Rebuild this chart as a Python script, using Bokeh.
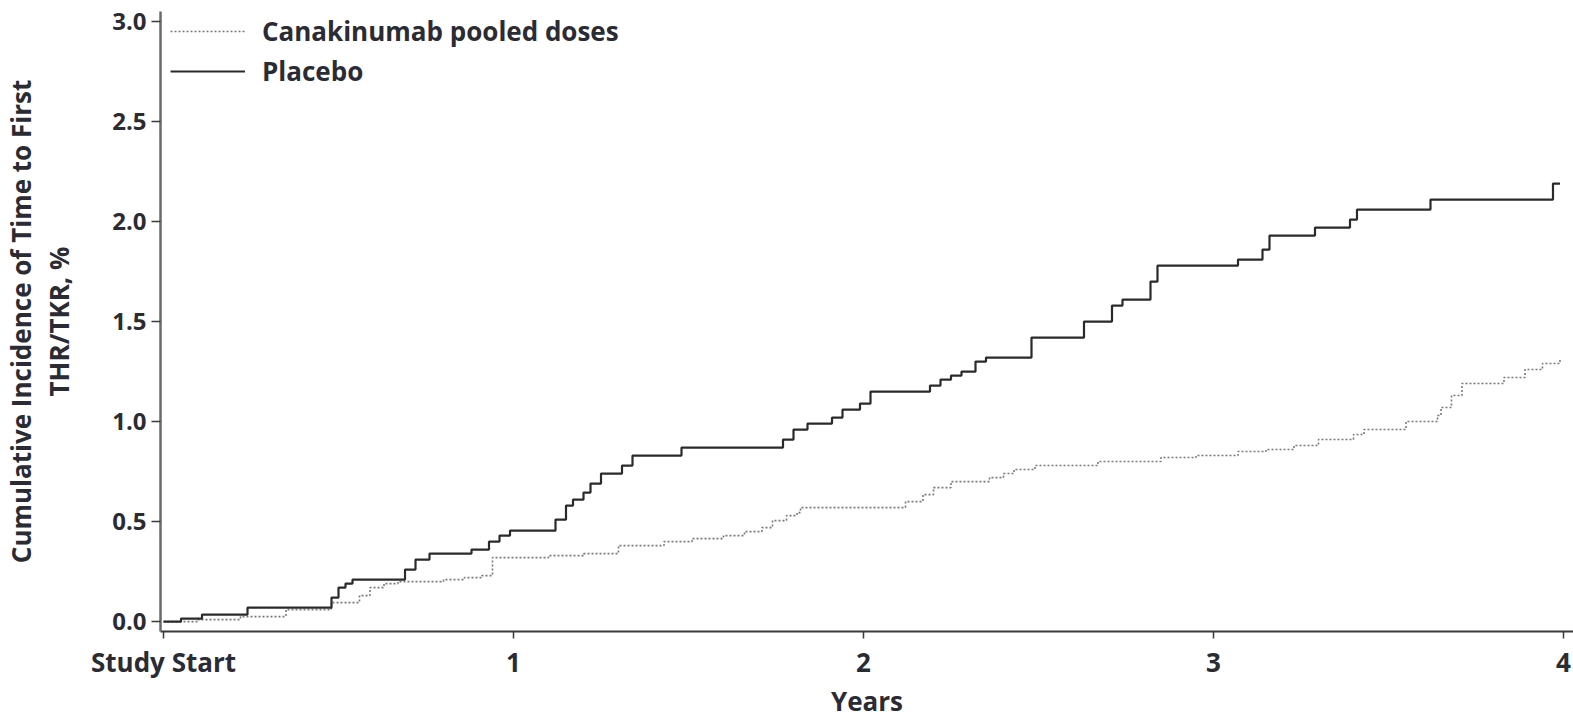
from bokeh.plotting import figure
from bokeh.models import Range1d, FixedTicker, Legend, LegendItem
from bokeh.embed import file_html
from bokeh.resources import INLINE

# Data
placebo_years = [0.00, 0.05, 0.11, 0.24, 0.48, 0.50, 0.52, 0.54, 0.69, 0.72, 0.76, 0.88, 0.93, 0.96, 0.99,
                 1.12, 1.15, 1.17, 1.20, 1.22, 1.25, 1.31, 1.34, 1.48, 1.77, 1.80, 1.84, 1.91, 1.94, 1.99,
                 2.02, 2.19, 2.22, 2.25, 2.28, 2.32, 2.35, 2.48, 2.63, 2.71, 2.74, 2.82, 2.84, 3.07, 3.14,
                 3.16, 3.29, 3.39, 3.41, 3.62, 3.97, 3.99]
placebo_pct = [0.00, 0.015, 0.035, 0.07, 0.12, 0.17, 0.19, 0.21, 0.26, 0.31, 0.34, 0.36, 0.40, 0.43, 0.455,
               0.51, 0.58, 0.61, 0.645, 0.69, 0.74, 0.78, 0.83, 0.87, 0.91, 0.96, 0.99, 1.02, 1.06, 1.09,
               1.15, 1.18, 1.21, 1.23, 1.25, 1.30, 1.32, 1.42, 1.50, 1.58, 1.61, 1.70, 1.78, 1.81, 1.86,
               1.93, 1.97, 2.01, 2.06, 2.11, 2.19, 2.19]

cana_years = [0.00, 0.10, 0.22, 0.35, 0.48, 0.56, 0.59, 0.63, 0.67, 0.80, 0.86, 0.91, 0.94, 1.10, 1.20,
              1.30, 1.43, 1.51, 1.60, 1.66, 1.71, 1.74, 1.78, 1.81, 1.82, 2.12, 2.17, 2.20, 2.25, 2.36,
              2.40, 2.43, 2.49, 2.67, 2.85, 2.95, 3.07, 3.15, 3.23, 3.30, 3.40, 3.43, 3.55, 3.64, 3.65,
              3.68, 3.71, 3.83, 3.89, 3.94, 3.99]
cana_pct = [0.00, 0.01, 0.025, 0.06, 0.095, 0.13, 0.17, 0.19, 0.20, 0.21, 0.22, 0.23, 0.32, 0.33, 0.34,
            0.38, 0.40, 0.415, 0.43, 0.45, 0.47, 0.505, 0.53, 0.545, 0.57, 0.60, 0.635, 0.67, 0.70, 0.72,
            0.74, 0.76, 0.78, 0.80, 0.82, 0.83, 0.85, 0.86, 0.88, 0.91, 0.935, 0.96, 1.00, 1.03, 1.07,
            1.13, 1.19, 1.22, 1.26, 1.29, 1.31]

x_ticks = [0, 1, 2, 3, 4]
x_tick_labels = ["Study Start", "1", "2", "3", "4"]
y_ticks = [0.0, 0.5, 1.0, 1.5, 2.0, 2.5, 3.0]
y_tick_labels = ["0.0", "0.5", "1.0", "1.5", "2.0", "2.5", "3.0"]

series_names = ["Canakinumab pooled doses", "Placebo"]

FONT = "Open Sans"
TXT = "#2b2b33"

p = figure(width=1573, height=721, output_backend="svg", toolbar_location=None,
           x_range=Range1d(-0.0086, 4.0286), y_range=Range1d(-0.0495, 3.05),
           min_border_left=160, min_border_right=0, min_border_top=11, min_border_bottom=84)
p.outline_line_color = None
p.xgrid.visible = False
p.ygrid.visible = False
p.background_fill_color = "white"

r_cana = p.step(cana_years, cana_pct, mode="after", line_color="#7a7a7a", line_width=1.6,
                line_dash="2 2")
r_plac = p.step(placebo_years, placebo_pct, mode="after", line_color="#2a2a2a", line_width=2.2)

legend = Legend(items=[LegendItem(label=series_names[0], renderers=[r_cana]),
                       LegendItem(label=series_names[1], renderers=[r_plac])],
                location=(10, 540), padding=0, margin=0, spacing=0,
                glyph_width=75, glyph_height=40, label_height=40, label_standoff=17,
                label_text_font=FONT, label_text_font_style="bold", label_text_font_size="26px",
                label_text_color=TXT, border_line_color=None, background_fill_alpha=0)
p.add_layout(legend, "center")

# X axis
xa = p.xaxis[0]
xa.ticker = FixedTicker(ticks=x_ticks)
xa.major_label_overrides = {t: l for t, l in zip(x_ticks, x_tick_labels)}
xa.axis_label = "Years"
xa.axis_line_color = "#3a3a3a"
xa.axis_line_width = 2
xa.major_tick_line_color = "#3a3a3a"
xa.major_tick_line_width = 1.5
xa.major_tick_in = 0
xa.major_tick_out = 7
xa.minor_tick_line_color = None
xa.major_label_standoff = 5
xa.major_label_text_font = FONT
xa.major_label_text_font_style = "bold"
xa.major_label_text_font_size = "26px"
xa.major_label_text_color = TXT
xa.axis_label_text_font = FONT
xa.axis_label_text_font_style = "bold"
xa.axis_label_text_font_size = "26px"
xa.axis_label_text_color = TXT
xa.axis_label_standoff = 0

# Y axis
ya = p.yaxis[0]
ya.ticker = FixedTicker(ticks=y_ticks)
ya.major_label_overrides = {t: l for t, l in zip(y_ticks, y_tick_labels)}
ya.axis_label = "Cumulative Incidence of Time to First\nTHR/TKR, %"
ya.axis_line_color = "#6a6a6a"
ya.axis_line_width = 2.5
ya.major_tick_line_color = "#3a3a3a"
ya.major_tick_line_width = 1.5
ya.major_tick_in = 0
ya.major_tick_out = 9
ya.minor_tick_line_color = None
ya.major_label_standoff = 5
ya.major_label_text_font = FONT
ya.major_label_text_font_style = "bold"
ya.major_label_text_font_size = "24px"
ya.major_label_text_color = TXT
ya.axis_label_text_font = FONT
ya.axis_label_text_font_style = "bold"
ya.axis_label_text_font_size = "26px"
ya.axis_label_text_line_height = 1.05
ya.axis_label_text_color = TXT
ya.axis_label_standoff = 32

open("out.html", "w").write(file_html(p, INLINE))
